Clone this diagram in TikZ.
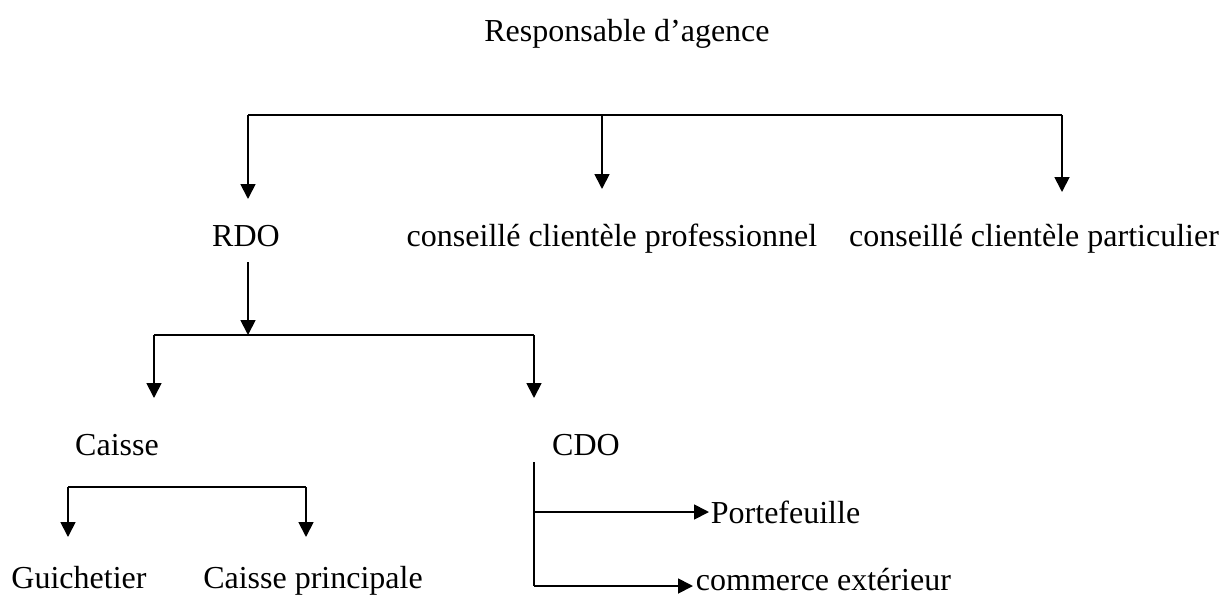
\documentclass[tikz,border=0pt]{standalone}
\usepackage{fontspec}
\setmainfont{Liberation Serif}
\usetikzlibrary{arrows.meta}
\begin{document}
\begin{tikzpicture}[x=1pt,y=-1pt,line width=1.8pt,
  arr/.style={-{Triangle[length=15pt,width=15pt]}},
  lbl/.style={anchor=base,inner sep=0pt,font=\fontsize{32}{38}\selectfont}]
\useasboundingbox (0,0) rectangle (1224,595);
% labels
\node[lbl] (resp) at (627,41) {Responsable d’agence};
\node[lbl] (rdo) at (246,246) {RDO};
\node[lbl] (pro) at (612,246) {conseillé clientèle professionnel};
\node[lbl] (part) at (1034,246) {conseillé clientèle particulier};
\node[lbl] (caisse) at (117,455) {Caisse};
\node[lbl] (cdo) at (586,455) {CDO};
\node[lbl] (gui) at (79,588) {Guichetier};
\node[lbl] (cp) at (313,588) {Caisse principale};
\node[lbl,anchor=base west] (port) at (710,523) {Portefeuille};
\node[lbl,anchor=base west] (comm) at (695,590) {commerce extérieur};
% junction coordinates
\coordinate (bA) at (248,115);
\coordinate (bB) at (602,115);
\coordinate (bC) at (1062,115);
\coordinate (tA) at (248,199);
\coordinate (tB) at (602,189);
\coordinate (tC) at (1062,192);
\coordinate (rdoS) at (248,262);
\coordinate (rdoT) at (248,335);
\coordinate (cL) at (154,335);
\coordinate (cR) at (534,335);
\coordinate (cLt) at (154,398);
\coordinate (cRt) at (534,398);
\coordinate (kL) at (68,487);
\coordinate (kR) at (306,487);
\coordinate (kLt) at (68,537);
\coordinate (kRt) at (306,537);
\coordinate (dS) at (534,462);
\coordinate (dM) at (534,512);
\coordinate (dE) at (534,586);
\coordinate (pT) at (709,512);
\coordinate (cT) at (693,586);
% connectors
\draw (bA) -- (bC);
\draw[arr] (bA) -- (tA);
\draw[arr] (bB) -- (tB);
\draw[arr] (bC) -- (tC);
\draw[arr] (rdoS) -- (rdoT);
\draw (cL) -- (cR);
\draw[arr] (cL) -- (cLt);
\draw[arr] (cR) -- (cRt);
\draw (kL) -- (kR);
\draw[arr] (kL) -- (kLt);
\draw[arr] (kR) -- (kRt);
\draw (dS) -- (dE);
\draw[arr] (dM) -- (pT);
\draw[arr] (dE) -- (cT);
\end{tikzpicture}
\end{document}
